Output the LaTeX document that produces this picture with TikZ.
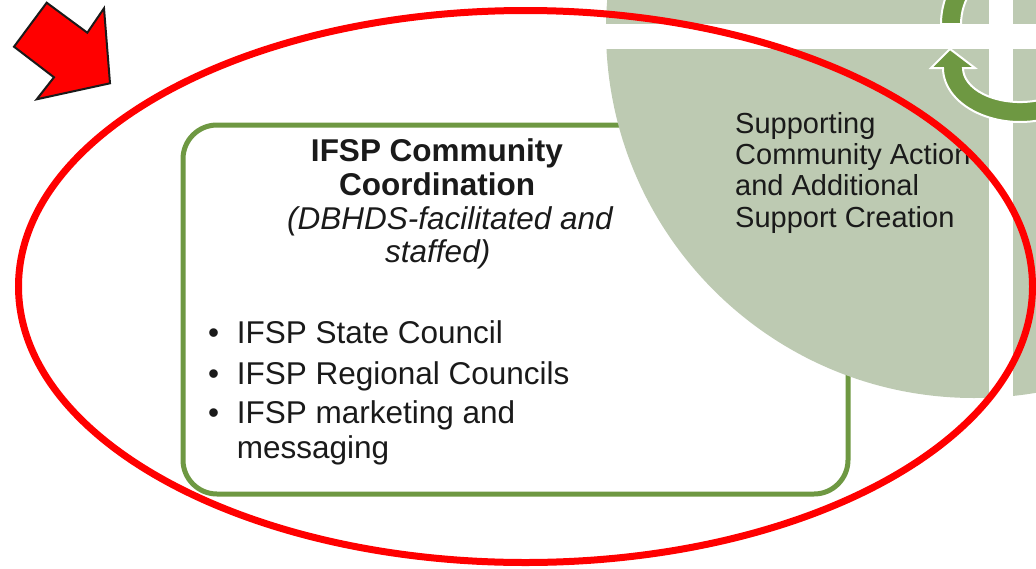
\documentclass[tikz,border=0pt]{standalone}
\usepackage{fontspec}
\setmainfont{Liberation Sans}
\definecolor{sage}{RGB}{189,202,178}
\definecolor{leaf}{RGB}{110,152,66}
\definecolor{ink}{RGB}{26,26,26}
\tikzset{
  txt/.style={inner sep=0pt, anchor=base west, text=ink, font=\fontsize{31.5}{36}\selectfont},
  ttl/.style={inner sep=0pt, anchor=base, text=ink, font=\fontsize{31.5}{36}\selectfont\bfseries},
  itl/.style={txt, font=\fontsize{31.5}{36}\selectfont\itshape},
  side/.style={txt, font=\fontsize{29}{32}\selectfont},
  cbox/.style={draw=leaf, line width=5pt, fill=white, rounded corners=34pt, minimum width=665pt, minimum height=369pt, inner sep=0pt},
  cyclearrow/.style={fill=leaf, draw=white, line width=2pt},
  ring/.style={draw=red, line width=7pt},
  pointer/.style={fill=red, draw=ink, line width=2pt, line join=miter}
}
\begin{document}
\begin{tikzpicture}[x=1pt, y=-1pt]
  \useasboundingbox (0,0) rectangle (1036,568);
  \clip (0,0) rectangle (1036,568);

  \node[cbox] (box) at (515.5,309.5) {};

  \fill[sage] (974,30) circle[radius=368];
  \fill[white] (600,24) rectangle (1036,49);
  \fill[white] (989,0) rectangle (1013,420);

  \draw[cyclearrow] (943,68) arc[start angle=180, end angle=70, x radius=77, y radius=54]
    -- (1039.5,100) arc[start angle=70, end angle=180, x radius=57, y radius=34]
    -- (975,68) -- (950,49) -- (931,68) -- cycle;
  \draw[cyclearrow] (941,24) arc[start angle=180, end angle=215, radius=79]
    -- (971.7,-9.8) arc[start angle=215, end angle=180, radius=59] -- cycle;

  \node[ttl] (t1) at (437,161.7) {IFSP Community};
  \node[ttl] (t2) at (437,195.7) {Coordination};
  \node[itl] (s1) at (287,229) {(DBHDS-facilitated and};
  \node[itl] (s2) at (385,262) {staffed)};

  \node[txt] (d1) at (208,343.3) {•};
  \node[txt] (b1) at (236.7,343.3) {IFSP State Council};
  \node[txt] (d2) at (208,384) {•};
  \node[txt] (b2) at (236.7,384) {IFSP Regional Councils};
  \node[txt] (d3) at (208,423) {•};
  \node[txt] (b3) at (236.7,423) {IFSP marketing and};
  \node[txt] (b4) at (236.7,458) {messaging};

  \node[side] (r1) at (735,133) {Supporting};
  \node[side] (r2) at (735,164) {Community Action};
  \node[side] (r3) at (735,195.5) {and Additional};
  \node[side] (r4) at (735,227) {Support Creation};

  \draw[ring] (525.5,286.5) ellipse[x radius=507, y radius=276];

  \draw[pointer] (46.7,2.7) -- (87.3,32.7) -- (104,8.3) -- (110,83.3) -- (36.7,99.3) -- (54,77.3) -- (14,46.7) -- cycle;
\end{tikzpicture}
\end{document}
